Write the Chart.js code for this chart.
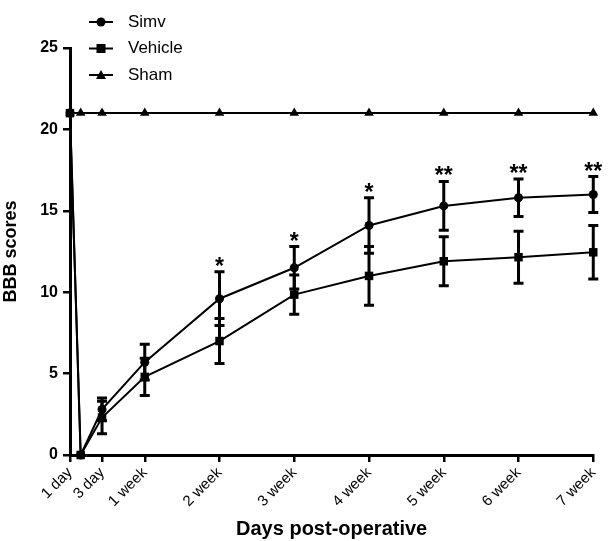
<!DOCTYPE html>
<html>
<head>
<meta charset="utf-8">
<script src="https://cdn.jsdelivr.net/npm/chart.js@4"></script>
<style>
  html, body { margin: 0; padding: 0; background: #fff; }
  #wrap { width: 608px; height: 541px; }
</style>
</head>
<body>
<div id="wrap"><canvas id="bbbChart" width="608" height="541"></canvas></div>
<script>
// Days after surgery (x values) and BBB scores
const days = [0, 1, 3, 7, 14, 21, 28, 35, 42, 49];
const simvMean = [21, 0, 2.8, 5.7, 9.6, 11.5, 14.1, 15.3, 15.8, 16.0];
const simvErr = [0, 0, 0.7, 1.1, 1.65, 1.3, 1.7, 1.5, 1.15, 1.1];
const vehicleMean = [21, 0, 2.3, 4.8, 7.0, 9.85, 11.0, 11.9, 12.15, 12.45];
const vehicleErr = [0, 0, 1.0, 1.15, 1.38, 1.2, 1.8, 1.5, 1.6, 1.64];
const shamMean = [21, 21, 21, 21, 21, 21, 21, 21, 21, 21];
const stars = ['', '', '', '', '*', '*', '*', '**', '**', '**'];

// x axis ticks
const tickDays = [0, 3, 7, 14, 21, 28, 35, 42, 49];
const tickLabels = ['1 day', '3 day', '1 week', '2 week', '3 week', '4 week', '5 week', '6 week', '7 week'];

const FONT = "'Liberation Sans', Arial, sans-serif";

function toPoints(values) {
    return days.map((d, i) => ({ x: d, y: values[i] }));
}

function series(label, values, style, radius) {
    return {
        label: label,
        data: toPoints(values),
        pointStyle: style,
        pointRadius: radius,
        borderColor: '#000',
        backgroundColor: '#000',
        borderWidth: 2,
        pointBackgroundColor: '#000',
        pointBorderColor: '#000',
        pointBorderWidth: 0,
        tension: 0,
        clip: false
    };
}

// Error bars + significance stars
const errorBars = {
    id: 'errorBars',
    afterDatasetsDraw(chart) {
        const ctx = chart.ctx;
        const xs = chart.scales.x, ys = chart.scales.y;
        const sets = [[simvMean, simvErr], [vehicleMean, vehicleErr]];
        ctx.save();
        ctx.strokeStyle = '#000';
        ctx.lineWidth = 3;
        sets.forEach(([m, e]) => {
            days.forEach((d, i) => {
                if (!e[i]) return;
                const px = xs.getPixelForValue(d);
                const top = ys.getPixelForValue(m[i] + e[i]);
                const bot = ys.getPixelForValue(m[i] - e[i]);
                ctx.beginPath();
                ctx.moveTo(px, top); ctx.lineTo(px, bot);
                ctx.moveTo(px - 5, top); ctx.lineTo(px + 5, top);
                ctx.moveTo(px - 5, bot); ctx.lineTo(px + 5, bot);
                ctx.stroke();
            });
        });
        ctx.fillStyle = '#000';
        ctx.font = 'bold 23px ' + FONT;
        ctx.textAlign = 'center';
        ctx.textBaseline = 'alphabetic';
        days.forEach((d, i) => {
            if (!stars[i]) return;
            const px = xs.getPixelForValue(d);
            const top = ys.getPixelForValue(simvMean[i] + simvErr[i]);
            ctx.fillText(stars[i], px, top + 2);
        });
        ctx.restore();
    }
};

// Vertical legend in the top-left corner
const sideLegend = {
    id: 'sideLegend',
    afterDraw(chart) {
        const ctx = chart.ctx;
        ctx.save();
        ctx.font = '17px ' + FONT;
        ctx.textBaseline = 'middle';
        ctx.fillStyle = '#000';
        chart.data.datasets.forEach((ds, i) => {
            const y = 22 + i * 26.5;
            ctx.strokeStyle = '#000';
            ctx.lineWidth = 2;
            ctx.beginPath();
            ctx.moveTo(89, y); ctx.lineTo(113, y);
            ctx.stroke();
            ctx.beginPath();
            if (ds.pointStyle === 'circle') {
                ctx.arc(101, y, 4.5, 0, Math.PI * 2);
            } else if (ds.pointStyle === 'rect') {
                ctx.rect(96.5, y - 4.5, 9, 9);
            } else {
                ctx.moveTo(101, y - 5); ctx.lineTo(106, y + 4); ctx.lineTo(96, y + 4); ctx.closePath();
            }
            ctx.fill();
            ctx.fillText(ds.label, 128, y);
        });
        ctx.restore();
    }
};

const config = {
    type: 'line',
    data: {
        datasets: [
            series('Simv', simvMean, 'circle', 4.5),
            series('Vehicle', vehicleMean, 'rect', 6),
            series('Sham', shamMean, 'triangle', 5.5)
        ]
    },
    options: {
        responsive: false,
        animation: false,
        layout: { padding: { top: 48, right: 7 } },
        plugins: {
            legend: { display: false },
            tooltip: { enabled: false }
        },
        scales: {
            x: {
                type: 'linear',
                min: 0,
                max: 49,
                afterBuildTicks(scale) {
                    scale.ticks = tickDays.map(v => ({ value: v }));
                },
                afterFit(scale) { scale.height = 86; },
                ticks: {
                    autoSkip: false,
                    minRotation: 45,
                    maxRotation: 45,
                    color: '#000',
                    font: { family: FONT, size: 15 },
                    padding: 2,
                    callback: v => tickLabels[tickDays.indexOf(v)]
                },
                grid: { drawOnChartArea: false, drawTicks: true, tickLength: 7, color: '#000', lineWidth: 2.5 },
                border: { color: '#000', width: 3 },
                title: {
                    display: true,
                    text: 'Days post-operative',
                    color: '#000',
                    font: { family: FONT, size: 20, weight: 'bold' },
                    padding: { top: 0, bottom: 0 }
                }
            },
            y: {
                min: 0,
                max: 25,
                afterFit(scale) { scale.width = 70; },
                ticks: {
                    stepSize: 5,
                    color: '#000',
                    font: { family: FONT, size: 16, weight: 'bold' },
                    padding: 5
                },
                grid: { drawOnChartArea: false, drawTicks: true, tickLength: 7, color: '#000', lineWidth: 2.5 },
                border: { color: '#000', width: 3 },
                title: {
                    display: true,
                    text: 'BBB scores',
                    color: '#000',
                    font: { family: FONT, size: 18, weight: 'bold' },
                    padding: { top: 0, bottom: 4 }
                }
            }
        }
    },
    plugins: [errorBars, sideLegend]
};

const ctx = document.getElementById('bbbChart').getContext('2d');
const bbbChart = new Chart(ctx, config);
</script>
</body>
</html>
